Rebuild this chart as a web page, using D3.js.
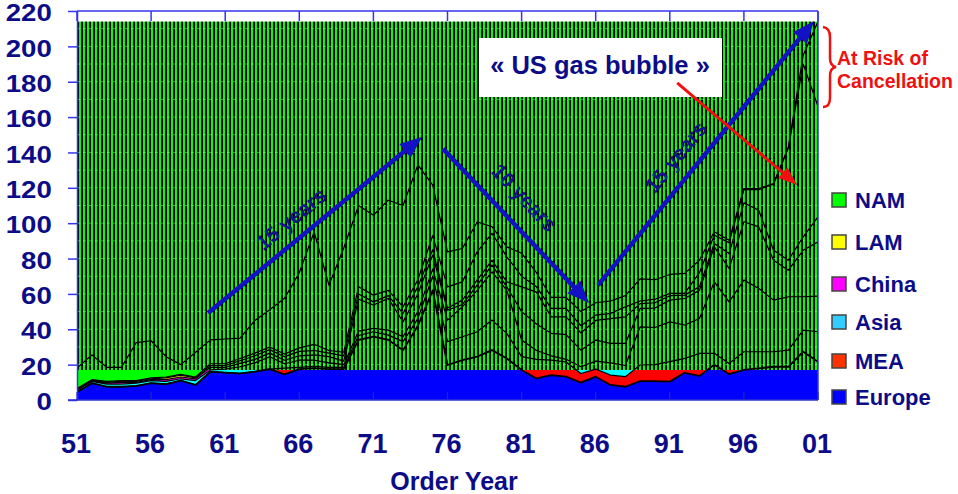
<!DOCTYPE html>
<html><head><meta charset="utf-8">
<script src="https://cdn.jsdelivr.net/npm/d3@7"></script>
<style>body{margin:0;background:#fff}svg{display:block}text{font-family:"Liberation Sans",Arial,sans-serif;font-weight:bold}</style>
</head><body>
<svg id="c" width="958" height="494"></svg>
<script>
// ---------- DATA ----------
const years = [1951,1952,1953,1954,1955,1956,1957,1958,1959,1960,
  1961,1962,1963,1964,1965,1966,1967,1968,1969,1970,
  1971,1972,1973,1974,1975,1976,1977,1978,1979,1980,
  1981,1982,1983,1984,1985,1986,1987,1988,1989,1990,
  1991,1992,1993,1994,1995,1996,1997,1998,1999,2000,2001];
const europe = [4.5,9.5,7.5,7.5,8,9.5,9,11,8.5,16, 15.5,15,16,17.5,14.5,17.5,18,17.5,17.5,34,
  35.8,34,28.2,42,62,19.8,22.6,24.5,28.2,23.5, 17,12.2,14.1,13.2,9.8,13.2,8.5,7.5,10.7,10.7,
  10.4,15.4,13.6,20,14.7,17,17.9,18.8,18.8,27.3, 21.6];
const mea = [0,0,0,0,0,0,0,0,0,0, 0,0,0,0,3.5,1,1,1,1,2.5,
  2.8,2.7,4.8,4,8,13.2,13.2,14.1,17,14.2, 7.5,10.8,8.5,8.3,5.2,4.3,5.6,5.7,9.1,9.3,
  11.3,8.1,12.8,6.4,6,10.3,9.4,8.5,9.4,12.2, 17];
const asia = [1,1,1.5,1.5,1.5,1.5,1.5,1,2.5,1, 2,3.8,5,7,2.5,4,3.5,2.5,1.5,2.5,
  1.9,2.8,2.8,4,4,12.2,16.9,23.4,27.3,24.3, 9.4,5,2.4,1.5,3.8,4.5,6.9,6.3,21.6,21,
  22.5,18.9,19.7,40.4,34.8,40.5,35.8,29.2,30.2,18.9, 20.2];
const china = [0.3,0.3,0.5,1,0.5,0.5,1,1,1,1.5, 1,1.9,2,2,2,2.5,3,3.5,2,18,
  13.2,18,8.4,10,8,5.6,1.3,3,3.8,2, 16.1,15,12.7,14,9.4,11.9,11,12.5,10.4,11,
  12.3,15,15.9,19.8,18.9,33,34.8,22.6,15,26.3, 30.7];
const lam = [0.4,0.4,0.5,0.5,0.5,0.5,1,1,0.5,1, 1,1.5,2,2,2,2.5,2.5,2,3,3,
  1.8,1.5,4.8,4,3,1.2,2.5,2.8,2.7,2.8, 14,18,9.3,10,9.8,11.1,14,15,2.7,3,
  2.5,1.9,2,1.9,8.5,10.7,9.4,5.6,5.7,7.6, 14.1];
const other = [0.3,0.3,0.5,0.5,0.5,0.5,0.5,0.5,0.5,1, 1,1.3,1.5,1.5,1.5,2,3.5,1.5,2,4,
  3.8,3,3.7,4,8,12,10.3,16,15.2,14.2, 6,3,4.8,4.8,4,3,3,5.7,1.5,2,
  1.3,1,8,4.7,6.1,7.5,11.7,37.3,63.4,97.7, 62.4];
const nam = [11.5,14,8,7.5,21.5,21,11.5,5.5,14,13.5, 14,11.5,18.5,21,31.5,42.5,63.5,37,59,46,
  45.2,51,57.3,65,28.5,19.8,18.9,16.9,3.8,5.6, 13,8,6.2,6.2,8,7,7,6.3,12.5,11,
  10.7,11.3,7,1.9,1.4,0.6,0.6,0.4,0.5,5, 48];

const seriesNames = ["Europe","MEA","Asia","China","LAM","Other","NAM"];
const seriesValues = [europe, mea, asia, china, lam, other, nam];
const seriesColors = ["#0000ff","#ff0000","#00ffff","#ff00ff","#ffff00","#00ff00","#00ff00"];
const legendNames = ["NAM","LAM","China","Asia","MEA","Europe"];
const legendColors = ["#00ff00","#ffff00","#ff00ff","#33ccff","#ff3300","#0000ff"];
const legendY = [200,242,284,322,361,397];
const yTicks = [0,20,40,60,80,100,120,140,160,180,200,220];
const gridVals = [20,30,40,50,60,70,80,90,100,110,120,130,140,150,160,170,180,190,200,210];
const xTickYears = [1951,1956,1961,1966,1971,1976,1981,1986,1991,1996,2001];
const xTickLabels = ["51","56","61","66","71","76","81","86","91","96","01"];
const maskTop = 214, maskBottom = 17;

// annotation arrows in data coordinates [year, value]
const blueArrows = [
  {from:[1959.84,49.2], to:[1974.28,148.8], label:"15 years", lab:[1965.45,102.5]},
  {from:[1975.7,142], to:[1985.55,54.9], label:"10 years", lab:[1981.2,114.5]},
  {from:[1986.16,65], to:[2000.73,214.4], label:"15 years", lab:[1991.4,137.5]}
];
const redArrow = {from:[1991.5,179.3], to:[1999.6,121.6]};

// ---------- SCALES ----------
const svg = d3.select("#c");
const x = d3.scaleLinear().domain([1951,2001]).range([77,818]);
const y = d3.scaleLinear().domain([0,220]).range([400,11]);
const navy = "#0c0c88";
const axisBlue = "#3535f0";

const table = years.map((yr,i)=>{const o={year:yr}; seriesNames.forEach((n,k)=>o[n]=seriesValues[k][i]); return o;});
const stacked = d3.stack().keys(seriesNames)(table);

const defs = svg.append("defs");
const pat = defs.append("pattern").attr("id","hatch").attr("patternUnits","userSpaceOnUse")
  .attr("x",x(1951)).attr("y",0).attr("width",4).attr("height",4);
pat.append("rect").attr("width",4).attr("height",4).attr("fill","#00ff00");
pat.append("rect").attr("width",2).attr("height",4).attr("fill","#000");
defs.append("clipPath").attr("id","low").append("rect")
  .attr("x",x(1951)).attr("y",y(maskBottom)).attr("width",x(2001)-x(1951)).attr("height",y(0)-y(maskBottom));
defs.append("clipPath").attr("id","plot").append("rect")
  .attr("x",x(1951)).attr("y",y(220)).attr("width",x(2001)-x(1951)).attr("height",y(0)-y(220));

// areas (visible only below the mask)
const area = d3.area().x(d=>x(d.data.year)).y0(d=>y(d[0])).y1(d=>y(d[1]));
svg.append("g").attr("clip-path","url(#low)").selectAll("path").data(stacked).join("path")
  .attr("d",area).attr("fill",(d,i)=>seriesColors[i]);

// hatched mask
svg.append("rect").attr("x",x(1951)).attr("y",y(maskTop)).attr("width",x(2001)-x(1951))
  .attr("height",y(maskBottom)-y(maskTop)).attr("fill","url(#hatch)");
svg.append("g").selectAll("line").data(gridVals).join("line")
  .attr("x1",x(1951)).attr("x2",x(2001)).attr("y1",d=>y(d)).attr("y2",d=>y(d))
  .attr("stroke","#8cff8c").attr("stroke-opacity",0.55).attr("stroke-width",1).attr("stroke-dasharray","3,3");

// boundary lines
const line = d3.line().x(d=>x(d.data.year)).y(d=>y(d[1]));
svg.append("g").attr("clip-path","url(#plot)").selectAll("path").data(stacked).join("path")
  .attr("d",line).attr("fill","none").attr("stroke","#000")
  .attr("stroke-width",(d,i)=>i===0?1.8:1.2).attr("stroke-linejoin","round");

// ---------- AXES ----------
const yAxis = svg.append("g").attr("transform",`translate(${x(1951)},0)`)
  .call(d3.axisLeft(y).tickValues(yTicks).tickSize(9).tickSizeOuter(0));
yAxis.select(".domain").attr("stroke",axisBlue).attr("stroke-width",1.5);
yAxis.selectAll(".tick line").attr("stroke",axisBlue).attr("stroke-width",1.5);
yAxis.selectAll(".tick text").attr("x",-21).attr("dy","0.42em").attr("transform","scale(1.2,1)")
  .attr("fill",navy).style("font-size","23px").style("font-family","Liberation Sans, Arial, sans-serif").style("font-weight","bold");

// frame
svg.append("line").attr("x1",x(1951)).attr("x2",x(2001)).attr("y1",y(220)).attr("y2",y(220)).attr("stroke",axisBlue).attr("stroke-width",1.5);
svg.append("line").attr("x1",x(2001)).attr("x2",x(2001)).attr("y1",y(220)).attr("y2",y(0)).attr("stroke",axisBlue).attr("stroke-width",1.5);
svg.append("line").attr("x1",x(1951)-9).attr("x2",x(2001)).attr("y1",y(0)).attr("y2",y(0)).attr("stroke","#3030d0").attr("stroke-width",1.5);
svg.append("g").selectAll("line").data(xTickYears).join("line")
  .attr("x1",d=>x(d)).attr("x2",d=>x(d)).attr("y1",y(220)).attr("y2",y(220)+10).attr("stroke",axisBlue).attr("stroke-width",1.5);
svg.append("g").selectAll("line").data(xTickYears).join("line")
  .attr("x1",d=>x(d)).attr("x2",d=>x(d)).attr("y1",y(0)).attr("y2",y(0)-8).attr("stroke","#2626c0").attr("stroke-width",1.2);
svg.append("g").selectAll("text").data(xTickYears).join("text")
  .attr("x",d=>x(d)-1).attr("y",453).attr("text-anchor","middle").attr("fill",navy)
  .style("font-size","27px").text((d,i)=>xTickLabels[i]);
svg.append("text").attr("x",454).attr("y",490).attr("text-anchor","middle").attr("fill",navy)
  .style("font-size","25px").text("Order Year");

// ---------- ANNOTATIONS ----------
function arrow(p1,p2,color,w,hl,hw){
  const x1=x(p1[0]),y1=y(p1[1]),x2=x(p2[0]),y2=y(p2[1]);
  const a=Math.atan2(y2-y1,x2-x1);
  const bx=x2-hl*Math.cos(a), by=y2-hl*Math.sin(a);
  svg.append("line").attr("x1",x1).attr("y1",y1).attr("x2",bx+2*Math.cos(a)).attr("y2",by+2*Math.sin(a))
    .attr("stroke",color).attr("stroke-width",w);
  const pts=[[x2,y2],[bx+hw/2*Math.sin(a),by-hw/2*Math.cos(a)],[bx-hw/2*Math.sin(a),by+hw/2*Math.cos(a)]];
  svg.append("polygon").attr("points",pts.map(p=>p.join(",")).join(" ")).attr("fill",color);
}
blueArrows.forEach(b=>{
  arrow(b.from,b.to,"#1212c4",4.5,22,18);
  const ang=Math.atan2(y(b.to[1])-y(b.from[1]),x(b.to[0])-x(b.from[0]))*180/Math.PI;
  svg.append("text").attr("transform",`translate(${x(b.lab[0])},${y(b.lab[1])}) rotate(${ang})`)
    .attr("text-anchor","middle").attr("dominant-baseline","central").attr("fill","#14148c")
    .style("font-size","21px").text(b.label);
});
// US gas bubble box
svg.append("rect").attr("x",479).attr("y",38).attr("width",243).attr("height",59).attr("fill","#fff");
svg.append("text").attr("x",600).attr("y",74).attr("text-anchor","middle").attr("fill",navy)
  .style("font-size","25.5px").text("« US gas bubble »");
arrow(redArrow.from,redArrow.to,"#f01010",3,19,14);

// At risk brace and text
svg.append("path").attr("d","M823,27 Q830,28 830,37 L830,58 Q830,66 836,67 Q830,68 830,76 L830,98 Q830,107 823,107")
  .attr("fill","none").attr("stroke","#f01010").attr("stroke-width",2.5);
svg.append("text").attr("x",837).attr("y",65).attr("fill","#f01010").style("font-size","19.5px").text("At Risk of");
svg.append("text").attr("x",837).attr("y",88).attr("fill","#f01010").style("font-size","19.5px").text("Cancellation");

// ---------- LEGEND ----------
const lg = svg.append("g").selectAll("g").data(legendNames).join("g")
  .attr("transform",(d,i)=>`translate(832,${legendY[i]})`);
lg.append("rect").attr("x",0).attr("y",-7).attr("width",14).attr("height",14)
  .attr("fill",(d,i)=>legendColors[i]).attr("stroke","#444").attr("stroke-width",1.5);
lg.append("text").attr("x",23).attr("y",0).attr("dy","0.36em").attr("fill",navy)
  .style("font-size","22px").text(d=>d);
</script>
</body></html>
